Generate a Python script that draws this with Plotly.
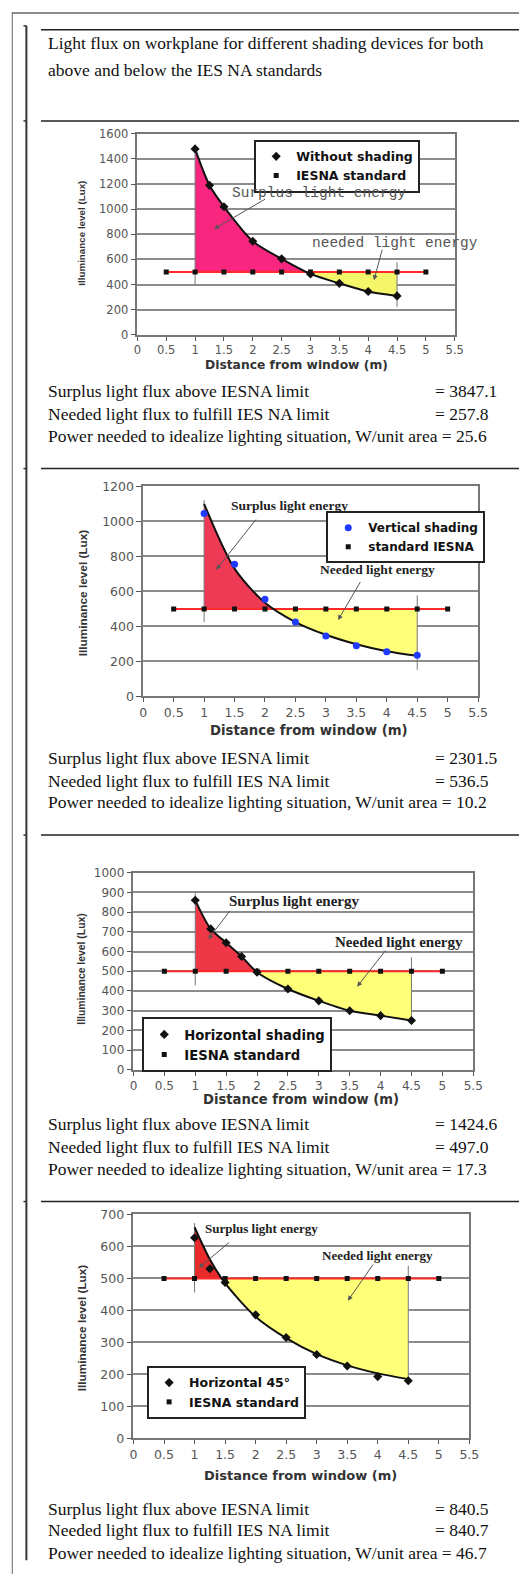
import plotly.graph_objects as go

W, H = 529, 1581

# ---------------- data ----------------
std_x = [0.5, 1, 1.5, 2, 2.5, 3, 3.5, 4, 4.5, 5]
std_y = [500, 500, 500, 500, 500, 500, 500, 500, 500, 500]

p1_x = [1, 1.25, 1.5, 2, 2.5, 3, 3.5, 4, 4.5]
p1_y = [1480, 1190, 1020, 745, 605, 485, 410, 345, 310]
p1_trend = [1480, 1190, 1020, 745, 605, 485, 410, 345, 310]

p2_x = [1, 1.5, 2, 2.5, 3, 3.5, 4, 4.5]
p2_y = [1045, 755, 555, 425, 345, 290, 255, 235]
p2_trend = [1100, 730, 535, 425, 352, 298, 258, 232]

p3_x = [1, 1.25, 1.5, 1.75, 2, 2.5, 3, 3.5, 4, 4.5]
p3_y = [860, 715, 645, 575, 495, 410, 350, 300, 275, 250]
p3_trend = [860, 715, 645, 575, 495, 410, 350, 300, 275, 250]

p4_x = [1, 1.25, 1.5, 2, 2.5, 3, 3.5, 4, 4.5]
p4_y = [627, 530, 487, 386, 315, 262, 226, 193, 180]
p4_trend = [660, 560, 485, 380, 313, 263, 228, 203, 185]

# vertical boundary markers at x=1 and x=4.5: [low, high]
p1_v1, p1_v45 = [394, 1480], [223, 578]
p2_v1, p2_v45 = [424, 1122], [153, 577]
p3_v1, p3_v45 = [429, 898], [228, 571]
p4_v1, p4_v45 = [456, 673], [175, 539]

series_names = ["Without shading", "Vertical shading", "Horizontal shading", "Horizontal 45°"]
std_names = ["IESNA standard", "standard IESNA", "IESNA standard", "IESNA standard"]

header_lines = ["Light flux on workplane for different shading devices for both",
                "above and below the IES NA standards"]

p1_text = [("Surplus light flux above IESNA limit", "= 3847.1"),
           ("Needed light flux to fulfill IES NA limit", "= 257.8"),
           ("Power needed to idealize lighting situation, W/unit area = 25.6", None)]
p2_text = [("Surplus light flux above IESNA limit", "= 2301.5"),
           ("Needed light flux to fulfill IES NA limit", "= 536.5"),
           ("Power needed to idealize lighting situation, W/unit area = 10.2", None)]
p3_text = [("Surplus light flux above IESNA limit", "= 1424.6"),
           ("Needed light flux to fulfill IES NA limit", "= 497.0"),
           ("Power needed to idealize lighting situation, W/unit area = 17.3", None)]
p4_text = [("Surplus light flux above IESNA limit", "= 840.5"),
           ("Needed light flux to fulfill IES NA limit", "= 840.7"),
           ("Power needed to idealize lighting situation, W/unit area = 46.7", None)]

# ---------------- layout constants ----------------
SERIF = "Liberation Serif, Times New Roman, serif"
SANS = "Liberation Sans, Arial, sans-serif"
WIDE = "DejaVu Sans, Verdana, sans-serif"
MONO = "Liberation Mono, Courier New, monospace"
TEXT_FS = 17.5


def px(x):
    return x / W


def py(y):
    return 1 - y / H


panels = [
    dict(x=p1_x, y=p1_y, t=p1_trend, v1=p1_v1, v45=p1_v45, text=p1_text,
         box=(137, 463, 127, 330), ymax=1600, dtick=200, tfs=11.5,
         surplus="#F8267F", yellow="#F6F66A", mcolor="#111", msym="diamond",
         legend=(257, 133, 12.5), ytitle=(80, 227, 9.8), xtitle=(300, 360, 12.3),
         textys=(387, 410, 432),
         lab_font=(MONO, 14.5, "#555", "normal"),
         lab_s=(3.14, 1127), lab_n=(4.47, 733),
         arr_s=(2.24, 1087, 1.33, 843), arr_n=(4.25, 690, 4.10, 435),
         lab_n_text="needed light energy"),
    dict(x=p2_x, y=p2_y, t=p2_trend, v1=p2_v1, v45=p2_v45, text=p2_text,
         box=(143, 487, 483, 695), ymax=1200, dtick=200, tfs=12.5,
         surplus="#EE3A55", yellow="#FFFF78", mcolor="#1F3BFF", msym="circle",
         legend=(331, 508, 12), ytitle=(82, 590, 11.8), xtitle=(313, 729, 13.3),
         textys=(757, 780, 802),
         lab_font=(SERIF, 13.5, "#222", "bold"),
         lab_s=(2.40, 1092), lab_n=(3.85, 724),
         arr_s=(1.87, 1019, 1.20, 724), arr_n=(3.58, 662, 3.20, 436),
         lab_n_text="Needed light energy"),
    dict(x=p3_x, y=p3_y, t=p3_trend, v1=p3_v1, v45=p3_v45, text=p3_text,
         box=(133, 482, 873, 1072), ymax=1000, dtick=100, tfs=12,
         surplus="#EE3848", yellow="#FFFF78", mcolor="#111", msym="diamond",
         legend=(142, 1019, 13.2), ytitle=(80, 970, 10.4), xtitle=(305, 1102, 13.2),
         textys=(1127, 1150, 1172),
         lab_font=(SERIF, 15, "#222", "bold"),
         lab_s=(2.60, 859), lab_n=(4.29, 648),
         arr_s=(1.58, 814, 1.21, 663), arr_n=(4.10, 613, 3.62, 422),
         lab_n_text="Needed light energy"),
    dict(x=p4_x, y=p4_y, t=p4_trend, v1=p4_v1, v45=p4_v45, text=p4_text,
         box=(133, 478, 1218, 1444), ymax=700, dtick=100, tfs=12.5,
         surplus="#E82A2A", yellow="#FFFF78", mcolor="#111", msym="diamond",
         legend=(147, 1371, 12.5), ytitle=(80, 1332, 11.8), xtitle=(305, 1482, 13),
         textys=(1515, 1537, 1560),
         lab_font=(SERIF, 13, "#222", "bold"),
         lab_s=(2.09, 657), lab_n=(4.00, 573),
         arr_s=(1.59, 616, 1.07, 533), arr_n=(3.94, 548, 3.51, 430),
         lab_n_text="Needed light energy"),
]

fig = go.Figure()
annotations = []
layout_axes = {}
legends = {}

for i, p in enumerate(panels):
    n = "" if i == 0 else str(i + 1)
    xa, ya = "x" + n, "y" + n
    lg = "legend" + n
    xs, ts = p["x"], p["t"]
    # crossing of trend line with standard level (geometric intersection)
    k, xc = 0, xs[0]
    for j in range(len(xs) - 1):
        if ts[j] >= 500 > ts[j + 1]:
            k = j
            xc = xs[j] + (ts[j] - 500) / (ts[j] - ts[j + 1]) * (xs[j + 1] - xs[j])
            break
    common = dict(xaxis=xa, yaxis=ya, showlegend=False, hoverinfo="skip")
    # surplus area
    fig.add_trace(go.Scatter(x=[xs[0], xc], y=[500, 500], mode="lines",
                             line=dict(width=0, color=p["surplus"]), **common))
    fig.add_trace(go.Scatter(x=list(xs[:k + 1]) + [xc], y=list(ts[:k + 1]) + [500],
                             mode="lines", line=dict(width=0, color=p["surplus"], shape="spline"),
                             fill="tonexty", fillcolor=p["surplus"], **common))
    # needed area
    fig.add_trace(go.Scatter(x=[xc, xs[-1]], y=[500, 500], mode="lines",
                             line=dict(width=0, color=p["yellow"]), **common))
    fig.add_trace(go.Scatter(x=[xc] + list(xs[k + 1:]), y=[500] + list(ts[k + 1:]),
                             mode="lines", line=dict(width=0, color=p["yellow"], shape="spline"),
                             fill="tonexty", fillcolor=p["yellow"], **common))
    # vertical limits
    fig.add_trace(go.Scatter(x=[xs[0], xs[0]], y=p["v1"], mode="lines",
                             line=dict(width=1, color="#777"), **common))
    fig.add_trace(go.Scatter(x=[xs[-1], xs[-1]], y=p["v45"], mode="lines",
                             line=dict(width=1, color="#777"), **common))
    # standard red line
    fig.add_trace(go.Scatter(x=std_x, y=std_y, mode="lines",
                             line=dict(width=2, color="#FF2A2A"), **common))
    # trend curve
    fig.add_trace(go.Scatter(x=xs, y=ts, mode="lines",
                             line=dict(width=2, color="#111", shape="spline", smoothing=0.8),
                             **common))
    # measured points (legend entry 1)
    fig.add_trace(go.Scatter(x=xs, y=p["y"], mode="markers", name=series_names[i],
                             marker=dict(symbol=p["msym"], size=7, color=p["mcolor"]),
                             xaxis=xa, yaxis=ya, legend=lg, hoverinfo="skip"))
    # standard markers (legend entry 2)
    fig.add_trace(go.Scatter(x=std_x, y=std_y, mode="markers", name=std_names[i],
                             marker=dict(symbol="square", size=5, color="#111"),
                             xaxis=xa, yaxis=ya, legend=lg, hoverinfo="skip"))

    x0, x1, y0, y1 = p["box"]
    tickfont = dict(family=WIDE, size=p["tfs"], color="#555")
    layout_axes["xaxis" + n] = dict(
        domain=[px(x0), px(x1)], range=[0, 5.5], tick0=0, dtick=0.5, anchor=ya,
        showgrid=False, zeroline=False, showline=True, linecolor="#777", linewidth=1.5,
        mirror=True, ticks="outside", ticklen=4, tickcolor="#555", tickfont=tickfont)
    layout_axes["yaxis" + n] = dict(
        domain=[py(y1), py(y0)], range=[0, p["ymax"]], tick0=0, dtick=p["dtick"], anchor=xa,
        showgrid=True, gridcolor="#8c8c8c", gridwidth=1.5, zeroline=False,
        showline=True, linecolor="#777", linewidth=1.5, mirror=True,
        ticks="outside", ticklen=5, tickcolor="#555", tickfont=tickfont)

    lx, ly, lfs = p["legend"]
    legends[lg] = dict(x=px(lx), y=py(ly), xanchor="left", yanchor="top",
                       traceorder="normal",
                       bgcolor="white", bordercolor="#222", borderwidth=2,
                       font=dict(family=WIDE, size=lfs, color="#111", weight="bold"),
                       itemwidth=30, tracegroupgap=0)

    # axis titles
    tx, ty, tfs = p["ytitle"]
    annotations.append(dict(x=px(tx), y=py(ty), xref="paper", yref="paper", showarrow=False,
                            xanchor="center", yanchor="middle",
                            text="<b>Illuminance level (Lux)</b>", textangle=-90,
                            font=dict(family=SANS, size=tfs, color="#333")))
    tx, ty, tfs = p["xtitle"]
    annotations.append(dict(x=px(tx), y=py(ty), xref="paper", yref="paper", showarrow=False,
                            xanchor="center", yanchor="middle",
                            text="<b>Distance from window (m)</b>",
                            font=dict(family=WIDE, size=tfs, color="#333")))

    # energy labels and arrows
    ff, fs, fc, fw = p["lab_font"]
    annotations.append(dict(x=p["lab_s"][0], y=p["lab_s"][1], xref=xa, yref=ya, showarrow=False,
                            xanchor="center", yanchor="middle",
                            text="Surplus light energy",
                            font=dict(family=ff, size=fs, color=fc, weight=fw)))
    annotations.append(dict(x=p["lab_n"][0], y=p["lab_n"][1], xref=xa, yref=ya, showarrow=False,
                            xanchor="center", yanchor="middle",
                            text=p["lab_n_text"],
                            font=dict(family=ff, size=fs, color=fc, weight=fw)))
    for a in (p["arr_s"], p["arr_n"]):
        annotations.append(dict(x=a[2], y=a[3], ax=a[0], ay=a[1], xref=xa, yref=ya,
                                axref=xa, ayref=ya, text="", showarrow=True,
                                arrowhead=2, arrowsize=1, arrowwidth=1, arrowcolor="#555"))

    # summary text
    for (label, val), yy in zip(p["text"], p["textys"]):
        annotations.append(dict(x=px(43), y=py(yy), xref="paper", yref="paper", showarrow=False,
                                xanchor="left", yanchor="middle", text=label,
                                font=dict(family=SERIF, size=TEXT_FS, color="#111")))
        if val:
            annotations.append(dict(x=px(441), y=py(yy), xref="paper", yref="paper",
                                    showarrow=False, xanchor="left", yanchor="middle", text=val,
                                    font=dict(family=SERIF, size=TEXT_FS, color="#111")))

# header
for line, yy in zip(header_lines, (35, 63)):
    annotations.append(dict(x=px(43), y=py(yy), xref="paper", yref="paper", showarrow=False,
                            xanchor="left", yanchor="middle", text=line,
                            font=dict(family=SERIF, size=TEXT_FS, color="#111")))

# page frame
shapes = []


def seg(x0, y0, x1, y1, color, width):
    shapes.append(dict(type="line", xref="paper", yref="paper",
                       x0=px(x0), y0=py(y0), x1=px(x1), y1=py(y1),
                       line=dict(color=color, width=width)))


seg(8, 5, 529, 5, "#666", 1.5)
seg(8.5, 5, 8.5, 1581, "#666", 1)
seg(23, 18, 23, 1567, "#333", 2)
seg(20, 18, 23, 18, "#333", 1.5)
for yy in (22, 114, 465, 835, 1205):
    seg(38, yy, 529, yy, "#222", 1.5)
for yy in (114, 465, 835, 1205):
    seg(20, yy, 23, yy, "#333", 1.5)

fig.update_layout(
    width=W, height=H, margin=dict(l=0, r=0, t=0, b=0),
    paper_bgcolor="white", plot_bgcolor="white",
    annotations=annotations, shapes=shapes, **layout_axes, **legends,
)

fig.write_html("out.html", config={"displayModeBar": False},
               post_script="document.body.style.margin='0';")
